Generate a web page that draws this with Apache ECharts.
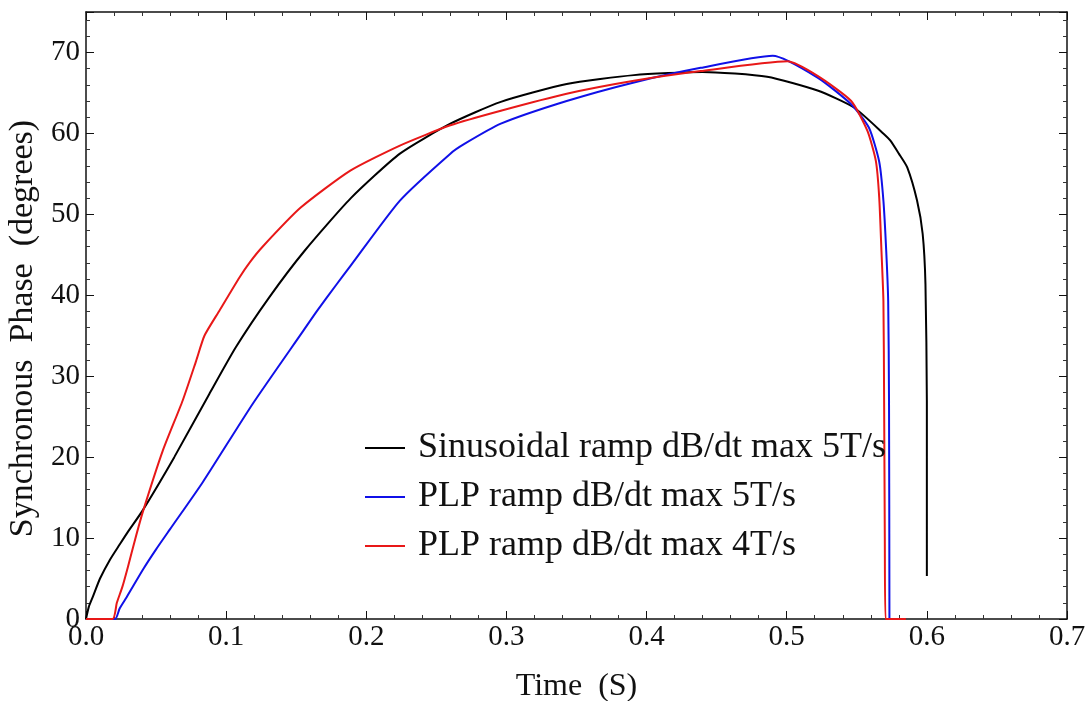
<!DOCTYPE html>
<html lang="en">
<head>
    <meta charset="UTF-8">
    <title>Synchronous Phase vs Time</title>
    <script src="https://cdn.jsdelivr.net/npm/echarts@6.0.0/dist/echarts.min.js"></script>
    <style>
        body { margin: 0; background: #fff; }
        #chart { width: 1090px; height: 701px; }
    </style>
</head>
<body>
    <div id="chart"></div>
    <script>
        // Series names
        const seriesNames = [
            'Sinusoidal ramp dB/dt max 5T/s',
            'PLP ramp dB/dt max 5T/s',
            'PLP ramp dB/dt max 4T/s'
        ];

        // Sinusoidal ramp, 5 T/s (time in s, phase in degrees)
        const sinTime = [0, 0.002, 0.005, 0.01, 0.017, 0.024, 0.03, 0.04, 0.063, 0.088, 0.107, 0.131, 0.156, 0.189,
            0.224, 0.26, 0.296, 0.343, 0.391, 0.44, 0.486, 0.522, 0.548, 0.5695, 0.574, 0.58, 0.586, 0.593, 0.597,
            0.599, 0.6, 0.6];
        const sinPhase = [0, 1.5, 2.8, 5.0, 7.3, 9.2, 10.8, 13.3, 20.0, 27.8, 33.6, 39.8, 45.5, 52.0,
            57.5, 61.2, 63.9, 66.1, 67.2, 67.6, 67.0, 65.3, 63.2, 59.9, 59.1, 57.5, 55.8, 51.7, 47.6,
            41.4, 27, 5.3];

        // PLP ramp, 5 T/s
        const plp5Time = [0, 0.0207, 0.024, 0.029, 0.041, 0.05, 0.06, 0.0833, 0.119, 0.155, 0.165, 0.1786, 0.1886,
            0.224, 0.26, 0.27, 0.296, 0.343, 0.391, 0.4386, 0.49, 0.522, 0.546, 0.5587, 0.566, 0.569, 0.571,
            0.5724, 0.573, 0.5733];
        const plp5Phase = [0, 0, 1.3, 2.7, 6.2, 8.6, 11.1, 16.9, 26.6, 35.6, 38.1, 41.3, 43.6,
            51.7, 57.5, 58.7, 61.2, 64.0, 66.3, 68.1, 69.6, 66.9, 63.6, 60.7, 56.5, 51.7, 45.5,
            39.3, 27, 0];

        // PLP ramp, 4 T/s
        const plp4Time = [0, 0.019, 0.022, 0.026, 0.03, 0.035, 0.0405, 0.0548, 0.069, 0.0786, 0.0845, 0.0952, 0.1095,
            0.117, 0.126, 0.153, 0.1886, 0.224, 0.26, 0.296, 0.343, 0.391, 0.4386, 0.5005, 0.522, 0.546, 0.5576,
            0.5636, 0.566, 0.5676, 0.569, 0.5695, 0.570, 0.5705, 0.585];
        const plp4Phase = [0, 0, 2.0, 4.0, 6.5, 9.8, 13.2, 20.8, 27, 31.9, 35.0, 38.1, 42.2,
            44.1, 46.0, 50.8, 55.4, 58.5, 61, 62.8, 64.9, 66.5, 67.7, 68.9, 67.1, 64.0, 60.3,
            56.6, 52.1, 45.5, 39.3, 27, 10, 0, 0];

        const lineColors = ['#000000', '#1010e8', '#e81818'];

        function zip(xs, ys) {
            return xs.map((x, i) => [x, ys[i]]);
        }

        const font = "'Liberation Serif', 'Times New Roman', serif";

        const chart = echarts.init(document.getElementById('chart'));

        const baseX = {
            type: 'value',
            min: 0,
            max: 0.7,
            interval: 0.1,
            axisLine: { show: true, onZero: false, lineStyle: { color: '#111', width: 1.5 } },
            axisTick: { show: true, inside: true, length: 8, lineStyle: { color: '#111' } },
            minorTick: { show: true, splitNumber: 5, length: 4, lineStyle: { color: '#333' } },
            splitLine: { show: false }
        };
        const baseY = {
            type: 'value',
            min: 0,
            max: 75,
            interval: 10,
            axisLine: { show: true, onZero: false, lineStyle: { color: '#111', width: 1.5 } },
            axisTick: { show: true, inside: true, length: 8, lineStyle: { color: '#111' } },
            minorTick: { show: true, splitNumber: 5, length: 4, lineStyle: { color: '#333' } },
            splitLine: { show: false }
        };

        const option = {
            animation: false,
            backgroundColor: '#fff',
            grid: { left: 86, right: 23, top: 12, bottom: 82, outerBoundsMode: 'none' },
            legend: {
                orient: 'vertical',
                left: 360,
                top: 425,
                itemWidth: 40,
                itemHeight: 2,
                itemGap: 13,
                icon: 'rect',
                textStyle: { fontFamily: font, fontSize: 36, color: '#111', padding: [0, 0, 0, 8] },
                data: seriesNames
            },
            xAxis: [
                Object.assign({}, baseX, {
                    position: 'bottom',
                    name: 'Time  (S)',
                    nameLocation: 'middle',
                    nameGap: 52,
                    nameTextStyle: { fontFamily: font, fontSize: 32, color: '#111' },
                    axisLabel: {
                        fontFamily: font, fontSize: 29, color: '#111', margin: 4,
                        formatter: v => v.toFixed(1)
                    }
                }),
                Object.assign({}, baseX, {
                    position: 'top',
                    axisLabel: { show: false }
                })
            ],
            yAxis: [
                Object.assign({}, baseY, {
                    position: 'left',
                    name: 'Synchronous  Phase  (degrees)',
                    nameLocation: 'middle',
                    nameGap: 44,
                    nameTextStyle: { fontFamily: font, fontSize: 34, color: '#111', padding: [0, 26, 0, 0] },
                    axisLabel: { fontFamily: font, fontSize: 29, color: '#111', margin: 6, showMaxLabel: false }
                }),
                Object.assign({}, baseY, {
                    position: 'right',
                    axisLabel: { show: false }
                })
            ],
            series: [
                { name: seriesNames[0], data: zip(sinTime, sinPhase) },
                { name: seriesNames[1], data: zip(plp5Time, plp5Phase) },
                { name: seriesNames[2], data: zip(plp4Time, plp4Phase) }
            ].map((s, i) => ({
                name: s.name,
                type: 'line',
                data: s.data,
                showSymbol: false,
                symbol: 'none',
                smooth: 0.2,
                color: lineColors[i],
                lineStyle: { color: lineColors[i], width: 2 }
            }))
        };

        chart.setOption(option);
    </script>
</body>
</html>
